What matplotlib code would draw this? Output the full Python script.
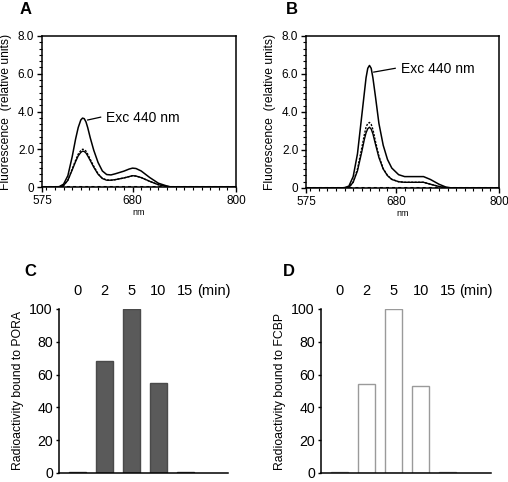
import matplotlib
matplotlib.use("Agg")
import matplotlib.pyplot as plt
from matplotlib.ticker import MultipleLocator, FixedLocator
import matplotlib.transforms as mtransforms

plt.rcParams['font.family'] = ['Liberation Sans', 'DejaVu Sans']

# ---------------- Panel A spectra ----------------
a_x = [575, 590, 595, 600, 605, 610, 614, 617, 620, 622, 624, 626, 628, 631, 635, 640, 645, 650, 655, 660, 670, 676, 680, 684, 690, 700, 710, 720, 725, 800]
a_top_y = [0, 0, 0.02, 0.15, 0.6, 1.6, 2.55, 3.15, 3.55, 3.65, 3.62, 3.45, 3.15, 2.6, 1.95, 1.3, 0.85, 0.66, 0.64, 0.7, 0.84, 0.95, 1.0, 0.98, 0.85, 0.5, 0.2, 0.05, 0, 0]
a_low_y = [0, 0, 0, 0.08, 0.35, 0.9, 1.35, 1.65, 1.83, 1.9, 1.88, 1.8, 1.65, 1.4, 1.05, 0.68, 0.45, 0.36, 0.36, 0.39, 0.48, 0.55, 0.6, 0.58, 0.5, 0.3, 0.12, 0.03, 0, 0]
a_dot_y = [0, 0, 0, 0.08, 0.37, 0.95, 1.42, 1.74, 1.93, 2.0, 1.98, 1.9, 1.74, 1.46, 1.1, 0.7, 0.46, 0.37, 0.36, 0.39, 0.48, 0.55, 0.6, 0.58, 0.5, 0.3, 0.12, 0.03, 0, 0]

# ---------------- Panel B spectra ----------------
b_x = [575, 615, 620, 625, 630, 635, 640, 643, 645, 647, 649, 651, 653, 656, 660, 665, 670, 675, 683, 690, 700, 712, 720, 730, 738, 745, 800]
b_top_y = [0, 0, 0.02, 0.1, 0.6, 1.8, 3.8, 5.0, 5.8, 6.3, 6.45, 6.3, 5.8, 4.8, 3.4, 2.25, 1.5, 1.05, 0.7, 0.6, 0.6, 0.6, 0.45, 0.2, 0.05, 0, 0]
b_low_y = [0, 0, 0, 0.03, 0.3, 0.9, 1.9, 2.55, 2.9, 3.12, 3.2, 3.1, 2.85, 2.3, 1.6, 1.0, 0.65, 0.45, 0.33, 0.3, 0.3, 0.3, 0.2, 0.08, 0.02, 0, 0]
b_dot_y = [0, 0, 0, 0.03, 0.32, 1.0, 2.1, 2.8, 3.2, 3.4, 3.45, 3.35, 3.08, 2.45, 1.68, 1.02, 0.66, 0.46, 0.33, 0.3, 0.3, 0.3, 0.2, 0.08, 0.02, 0, 0]

base_x = [575, 800]
base_y = [0, 0]

# ---------------- Bar panels ----------------
times = ['0', '2', '5', '10', '15']
pora = [0.5, 68, 100, 55, 0.5]
fcbp = [0.5, 54, 100, 53, 0.5]

W, H = 508, 482
fig = plt.figure(figsize=(W / 100, H / 100), dpi=100)

def frac(l, t, r, b):
    return [l / W, 1 - b / H, (r - l) / W, (b - t) / H]

def spectra(ax, x, top, low, dot, label_xy, line_xy):
    ax.plot(base_x, base_y, color='black', lw=2.2, ls=(0, (1, 1)), zorder=3)
    ax.plot(x, top, color='black', lw=1.1)
    ax.plot(x, low, color='black', lw=1.0)
    ax.plot(x, dot, color='black', lw=1.0, ls=(0, (1.5, 1)))
    ax.set_xlim(575, 800)
    ax.set_ylim(0, 8.0)
    ax.xaxis.set_major_locator(FixedLocator([575, 680, 800]))
    ax.xaxis.set_minor_locator(MultipleLocator(10))
    ax.yaxis.set_major_locator(FixedLocator([0, 2, 4, 6, 8]))
    ax.yaxis.set_minor_locator(MultipleLocator(2 / 6))
    ax.set_yticklabels(['0', '2.0', '4.0', '6.0', '8.0'])
    ax.tick_params(axis='both', which='major', direction='out', length=3.5, width=1, labelsize=8.5, pad=2)
    ax.tick_params(axis='both', which='minor', direction='out', length=2, width=0.8)
    for s in ax.spines.values():
        s.set_linewidth(1.1)
    ax.set_ylabel('Fluorescence  (relative units)', fontsize=8.7, labelpad=4)
    ax.set_xlabel('nm', fontsize=6.5, labelpad=1)
    ax.plot([line_xy[0][0], line_xy[1][0]], [line_xy[0][1], line_xy[1][1]], color='black', lw=0.9)
    ax.text(label_xy[0], label_xy[1], 'Exc 440 nm', fontsize=10, va='center', ha='left')

axA = fig.add_axes(frac(42, 36, 236, 187))
spectra(axA, a_x, a_top_y, a_low_y, a_dot_y, (649, 3.68), ((628, 3.55), (643, 3.7)))
axB = fig.add_axes(frac(306, 36, 499, 188))
spectra(axB, b_x, b_top_y, b_low_y, b_dot_y, (686, 6.25), ((654, 6.1), (679, 6.3)))

def bars(ax, vals, face, edge, ylabel):
    pos = list(range(len(times)))
    ax.bar(pos, vals, width=0.63, color=face, edgecolor=edge, linewidth=1.0)
    ax.set_xlim(-0.68, 5.59)
    ax.set_ylim(0, 100)
    ax.set_xticks([])
    ax.set_yticks([0, 20, 40, 60, 80, 100])
    ax.tick_params(axis='y', direction='out', length=2.5, width=1, labelsize=10.2, pad=2)
    ax.spines['top'].set_visible(False)
    ax.spines['right'].set_visible(False)
    ax.spines['left'].set_linewidth(1.1)
    ax.spines['bottom'].set_linewidth(1.1)
    ax.set_ylabel(ylabel, fontsize=8.8, labelpad=4)
    tr = mtransforms.blended_transform_factory(ax.transData, ax.transAxes)
    for p, t in zip(pos, times):
        ax.text(p, 1.11, t, transform=tr, ha='center', va='center', fontsize=10.5)
    ax.text(5.05, 1.11, '(min)', transform=tr, ha='center', va='center', fontsize=10.5)

axC = fig.add_axes(frac(59, 309, 228, 473))
bars(axC, pora, '#5a5a5a', '#4a4a4a', 'Radioactivity bound to PORA')
axD = fig.add_axes(frac(321, 309, 491, 473))
bars(axD, fcbp, 'white', '#9a9a9a', 'Radioactivity bound to FCBP')

for lab, x, y in [('A', 26, 10), ('B', 292, 10), ('C', 30, 272), ('D', 289, 272)]:
    fig.text(x / W, 1 - y / H, lab, fontsize=12, fontweight='bold', ha='center', va='center')

fig.savefig('out.png', dpi=100)
